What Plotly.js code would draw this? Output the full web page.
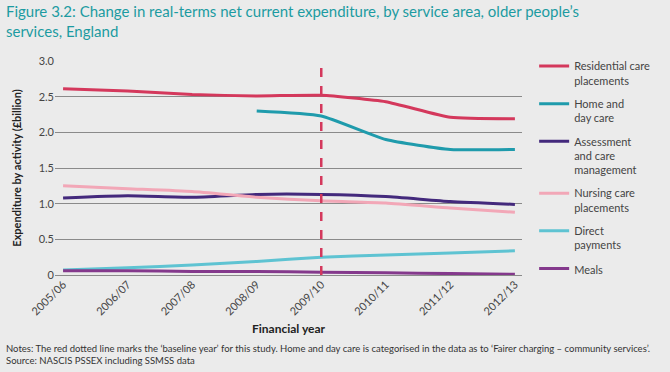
<!DOCTYPE html>
<html>
<head>
<meta charset="utf-8">
<script src="https://cdn.plot.ly/plotly-3.0.1.min.js"></script>
<style>
html,body{margin:0;padding:0;background:#ebebeb;}
#chart{width:670px;height:372px;}
</style>
</head>
<body>
<div id="chart"></div>
<script>
const years = ["2005/06","2006/07","2007/08","2008/09","2009/10","2010/11","2011/12","2012/13"];
const residential = [2.61, 2.58, 2.53, 2.51, 2.52, 2.43, 2.21, 2.19];
const homeDayCare = [null, null, null, 2.30, 2.23, 1.90, 1.76, 1.76];
const assessment = [1.08, 1.11, 1.09, 1.13, 1.13, 1.10, 1.03, 0.99];
const nursing = [1.25, 1.21, 1.17, 1.09, 1.04, 1.01, 0.94, 0.88];
const directPayments = [0.07, 0.10, 0.14, 0.19, 0.25, 0.28, 0.31, 0.34];
const meals = [0.06, 0.06, 0.05, 0.05, 0.04, 0.03, 0.02, 0.01];
const baselineYear = "2009/10";

const series = [
  {name: "Residential care<br>placements", y: residential, color: "#d4385c"},
  {name: "Home and<br>day care", y: homeDayCare, color: "#1f9bac"},
  {name: "Assessment<br>and care<br>management", y: assessment, color: "#43297c"},
  {name: "Nursing care<br>placements", y: nursing, color: "#f2a7b7"},
  {name: "Direct<br>payments", y: directPayments, color: "#5ec3d2"},
  {name: "Meals", y: meals, color: "#84398c"}
];

const traces = series.map((s, i) => ({
  type: "scatter", mode: "lines", x: years, y: s.y, name: s.name,
  legendgroup: "g" + i,
  line: {color: s.color, width: 3, shape: "spline", smoothing: 0.5},
  connectgaps: false
}));

const font = "Lato, 'Open Sans', sans-serif";
const layout = {
  width: 670, height: 372,
  paper_bgcolor: "#ebebeb", plot_bgcolor: "#ebebeb",
  margin: {l: 55, r: 148, t: 61, b: 97},
  font: {family: font, size: 11, color: "#444"},
  xaxis: {
    type: "category", range: [-0.125, 7.11],
    showgrid: false, zeroline: false, showline: false,
    tickangle: -45, ticks: "", tickfont: {size: 11, color: "#444"},
    title: {text: "<b>Financial year</b>", font: {size: 12, color: "#222"}, standoff: 8}
  },
  yaxis: {
    range: [0, 3], tickvals: [0,0.5,1,1.5,2,2.5,3],
    ticktext: ["0","0.5","1.0","1.5","2.0","2.5","3.0"],
    showgrid: true, gridcolor: "#8a8a8a", gridwidth: 1,
    zeroline: true, zerolinecolor: "#8a8a8a", zerolinewidth: 1,
    showline: false, ticks: "", tickfont: {size: 11, color: "#444"},
    title: {text: "<b>Expenditure by activity (£billion)</b>", font: {size: 11, color: "#222"}, standoff: 14}
  },
  legend: {
    x: 1.026, y: 1.04, xanchor: "left", yanchor: "top",
    bgcolor: "rgba(0,0,0,0)", font: {size: 11, color: "#444"},
    tracegroupgap: 6, itemwidth: 30, maxheight: 600, valign: "top"
  },
  shapes: [{
    type: "line", xref: "x", yref: "y", x0: baselineYear, x1: baselineYear, y0: 0, y1: 3,
    line: {color: "#d4385c", width: 2.5, dash: "dash"}
  }],
  annotations: [{
    xref: "paper", yref: "paper", x: -0.109, y: 1.285, xanchor: "left", yanchor: "top", align: "left",
    showarrow: false,
    text: "Figure 3.2: Change in real-terms net current expenditure, by service area, older people’s<br>services, England",
    font: {family: font, size: 15, color: "#1c9ba1"}
  }, {
    xref: "paper", yref: "paper", x: -0.109, y: -0.31, xanchor: "left", yanchor: "top", align: "left",
    showarrow: false,
    text: "Notes: The red dotted line marks the ‘baseline year’ for this study. Home and day care is categorised in the data as to ‘Fairer charging – community services’.<br>Source: NASCIS PSSEX including SSMSS data",
    font: {size: 9.5, color: "#333"}
  }]
};

Plotly.newPlot("chart", traces, layout, {staticPlot: true, displayModeBar: false});
</script>
</body>
</html>
